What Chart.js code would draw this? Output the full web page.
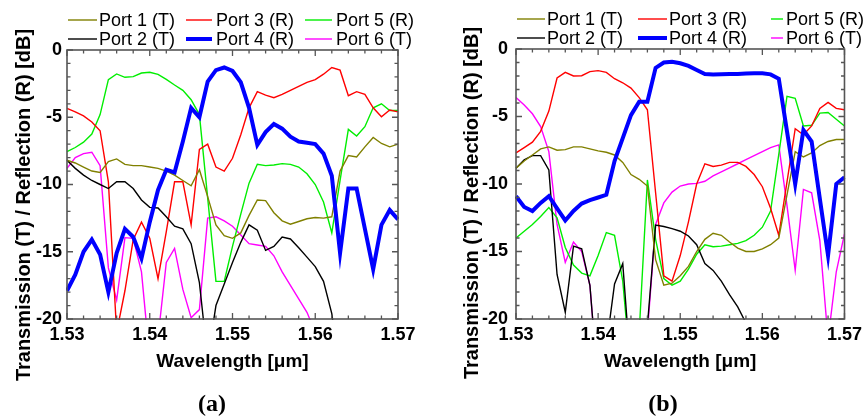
<!DOCTYPE html>
<html lang="en">
<head>
    <meta charset="UTF-8">
    <title>Port Response</title>
    <style>
        * { margin: 0; padding: 0; box-sizing: border-box; }
        body { background: #fff; }
        #wrap { position: relative; width: 867px; height: 417px; background: #fff; overflow: hidden; }
        canvas { position: absolute; top: 0; }
        .tag {
            position: absolute; top: 390px; width: 60px; line-height: 28px;
            text-align: center; font: bold 24px "Liberation Serif", "Times New Roman", serif;
        }
    </style>
</head>
<body>
    <div id="wrap">
        <canvas id="chartA" width="433" height="417" style="left:0"></canvas>
        <canvas id="chartB" width="434" height="417" style="left:433px"></canvas>
        <div class="tag" style="left:182px">(a)</div>
        <div class="tag" style="left:633px">(b)</div>
    </div>

    <script src="https://cdn.jsdelivr.net/npm/chart.js@4.4.1/dist/chart.umd.min.js"></script>
    <script>
        // Wavelength samples [um]
        const wl = [1.530, 1.531, 1.532, 1.533, 1.534, 1.535, 1.536, 1.537, 1.538, 1.539,
                    1.540, 1.541, 1.542, 1.543, 1.544, 1.545, 1.546, 1.547, 1.548, 1.549,
                    1.550, 1.551, 1.552, 1.553, 1.554, 1.555, 1.556, 1.557, 1.558, 1.559,
                    1.560, 1.561, 1.562, 1.563, 1.564, 1.565, 1.566, 1.567, 1.568, 1.569, 1.570];

        const portNames = ['Port 1 (T)', 'Port 2 (T)', 'Port 3 (R)', 'Port 4 (R)', 'Port 5 (R)', 'Port 6 (T)'];
        const portColors = ['#808000', '#000000', '#ff0000', '#0000ff', '#00ee00', '#ff00ff'];
        const xTicks = ['1.53', '1.54', '1.55', '1.56', '1.57'];
        const yTicks = ['0', '-5', '-10', '-15', '-20'];

        // (a) values in dB, values below -20 run off the bottom of the frame
        const a_port1 = [-8.2, -8.4, -8.7, -9.0, -9.1, -8.3, -8.1, -8.5, -8.6, -8.6,
                         -8.7, -8.8, -9.0, -9.3, -9.7, -10.1, -8.9, -10.9, -13.0, -13.8,
                         -14.0, -13.6, -12.3, -11.15, -11.2, -12.1, -12.7, -12.95, -12.75, -12.55,
                         -12.45, -12.5, -12.4, -9.0, -7.85, -7.95, -7.2, -6.5, -6.95, -7.2, -7.0];
        const a_port2 = [-8.2, -8.8, -9.3, -9.7, -10.0, -10.3, -9.8, -9.8, -10.3, -11.15,
                         -11.7, -11.75, -12.4, -13.1, -13.3, -14.4, -17.3, -23, -19.0, -17.4,
                         -15.8, -14.3, -13.0, -13.4, -14.9, -14.6, -13.9, -14.05, -14.7, -15.4,
                         -16.1, -17.2, -19.6, -24, -25, -25, -25, -25, -25, -25, -25];
        const a_port3 = [-4.34, -4.6, -4.9, -5.35, -6.0, -9.8, -21, -17.9, -14.1, -12.8,
                         -14.0, -17.0, -13.5, -9.8, -9.8, -13.0, -7.4, -7.0, -8.7, -9.0,
                         -8.05, -6.3, -4.3, -3.1, -3.35, -3.55, -3.3, -3.0, -2.7, -2.4,
                         -2.2, -1.8, -1.3, -1.5, -3.4, -3.1, -3.3, -4.3, -4.96, -4.46, -4.6];
        const a_port4 = [-17.9, -16.7, -15.0, -14.1, -15.2, -18.0, -15.1, -13.3, -13.9, -15.5,
                         -12.8, -10.4, -8.9, -9.1, -6.8, -4.3, -5.0, -2.35, -1.5, -1.3,
                         -1.56, -2.4, -4.3, -7.05, -6.1, -5.5, -5.85, -6.45, -6.8, -6.9,
                         -7.0, -7.7, -9.35, -15.1, -10.3, -10.3, -13.3, -16.3, -13.0, -11.9, -12.6];
        const a_port5 = [-7.56, -7.25, -6.85, -6.25, -4.8, -2.2, -1.78, -2.03, -1.98, -1.71,
                         -1.66, -1.81, -2.18, -2.6, -3.0, -3.7, -4.8, -11.0, -17.2, -17.2,
                         -14.6, -12.2, -9.9, -8.5, -8.6, -8.55, -8.45, -8.5, -8.7, -9.2,
                         -10.0, -11.3, -13.6, -9.7, -5.9, -6.4, -5.7, -4.3, -4.0, -4.5, -4.5];
        const a_port6 = [-8.8, -8.0, -7.7, -7.6, -8.6, -16.2, -18.6, -13.95, -14.0, -16.5,
                         -23, -21.4, -15.8, -14.75, -17.8, -19.9, -19.3, -12.5, -12.4, -12.7,
                         -13.1, -13.75, -14.4, -14.5, -14.6, -15.3, -16.5, -17.5, -18.5, -19.5,
                         -21, -24, -25, -25, -25, -25, -25, -25, -25, -25, -25];

        // (b) values in dB
        const b_port1 = [-8.84, -8.3, -7.85, -7.4, -7.25, -7.5, -7.45, -7.25, -7.25, -7.4,
                         -7.55, -7.65, -7.85, -8.4, -9.3, -9.65, -10.15, -15.6, -17.5, -17.35,
                         -16.8, -16.1, -15.0, -14.1, -13.65, -13.8, -14.3, -14.75, -15.0, -15.0,
                         -14.8, -14.5, -14.0, -10.8, -7.6, -8.0, -7.7, -7.15, -6.85, -6.7, -6.7];
        const b_port2 = [-8.84, -8.2, -7.9, -7.9, -8.96, -16.7, -19.5, -14.6, -14.8, -17.5,
                         -25, -22, -17.4, -15.9, -24, -25, -20.5, -13.05, -13.15, -13.3,
                         -13.5, -13.85, -14.5, -15.9, -16.4, -17.2, -18.2, -19.1, -20.3, -25,
                         -25, -25, -25, -25, -25, -25, -25, -25, -25, -25, -25];
        const b_port3 = [-7.7, -7.3, -6.9, -6.1, -4.6, -2.15, -1.73, -2.0, -1.98, -1.68,
                         -1.6, -1.73, -2.2, -2.5, -2.9, -3.6, -4.5, -10.65, -16.8, -17.2,
                         -15.3, -12.8, -10.0, -8.5, -8.7, -8.6, -8.4, -8.4, -8.7, -9.3,
                         -10.2, -11.8, -13.8, -9.85, -5.9, -6.35, -5.7, -4.4, -3.95, -4.4, -4.5];
        const b_port4 = [-10.9, -11.7, -12.0, -11.4, -10.9, -11.8, -12.7, -12.0, -11.45, -11.2,
                         -11.0, -10.8, -8.3, -6.6, -4.9, -3.9, -3.9, -1.4, -1.0, -0.94,
                         -1.06, -1.25, -1.55, -1.85, -1.88, -1.87, -1.85, -1.85, -1.82, -1.8,
                         -1.8, -1.88, -2.2, -6.1, -10.0, -6.0, -6.85, -11.1, -15.3, -10.0, -9.5];
        const b_port5 = [-14.0, -13.5, -13.0, -12.4, -11.75, -12.5, -14.7, -16.0, -16.6, -16.8,
                         -15.3, -13.6, -13.8, -17.2, -24, -21, -9.7, -14.1, -17.0, -17.5,
                         -17.2, -16.3, -15.2, -14.5, -14.65, -14.6, -14.5, -14.4, -14.2, -13.8,
                         -13.2, -12.0, -7.8, -3.5, -3.65, -5.7, -5.65, -4.75, -4.7, -5.2, -5.7];
        const b_port6 = [-3.6, -4.15, -4.8, -5.75, -7.6, -13.0, -15.8, -14.3, -15.0, -17.5,
                         -25, -25, -25, -25, -25, -25, -21, -13.0, -11.4, -10.6,
                         -10.15, -10.0, -9.95, -9.8, -9.4, -9.1, -8.8, -8.5, -8.2, -7.9,
                         -7.6, -7.3, -7.1, -11.6, -16.4, -10.4, -10.65, -14.2, -21.5, -16.5, -13.7];

        const FONT = '"Liberation Sans", Arial, sans-serif';
        Chart.defaults.font.family = FONT;
        Chart.defaults.color = '#000';

        // frame with inward ticks on all four sides
        const framePlugin = {
            id: 'frame',
            afterDatasetsDraw(chart) {
                const { ctx, chartArea: a, scales: { x, y } } = chart;
                ctx.save();
                ctx.strokeStyle = '#555';
                ctx.lineWidth = 1.3;
                ctx.beginPath();
                for (let k = 0; k <= 20; k++) {
                    const px = x.getPixelForValue(x.min + k * (x.max - x.min) / 20);
                    const len = k % 5 === 0 ? 6 : 3.5;
                    ctx.moveTo(px, a.bottom); ctx.lineTo(px, a.bottom - len);
                    ctx.moveTo(px, a.top); ctx.lineTo(px, a.top + len);
                }
                for (let k = 0; k <= 20; k++) {
                    const py = y.getPixelForValue(y.min + k * (y.max - y.min) / 20);
                    const len = k % 5 === 0 ? 6 : 3.5;
                    ctx.moveTo(a.left, py); ctx.lineTo(a.left + len, py);
                    ctx.moveTo(a.right, py); ctx.lineTo(a.right - len, py);
                }
                ctx.stroke();
                ctx.lineWidth = 1.6;
                ctx.strokeRect(a.left, a.top, a.right - a.left, a.bottom - a.top);
                ctx.restore();
            }
        };

        // two-row legend above the frame plus the rotated y title
        const notesPlugin = {
            id: 'notes',
            afterDraw(chart, args, opts) {
                const ctx = chart.ctx;
                ctx.save();
                ctx.font = '18px ' + FONT;
                ctx.textBaseline = 'middle';
                ctx.fillStyle = '#000';
                chart.data.datasets.forEach((ds, i) => {
                    const col = opts.cols[Math.floor(i / 2)];
                    const yy = opts.rows[i % 2];
                    ctx.strokeStyle = ds.borderColor;
                    ctx.lineWidth = ds.borderWidth;
                    ctx.beginPath();
                    ctx.moveTo(col[0], yy); ctx.lineTo(col[1], yy);
                    ctx.stroke();
                    ctx.fillText(ds.label, col[2], yy + 1);
                });
                ctx.translate(opts.titleX, opts.titleY);
                ctx.rotate(-Math.PI / 2);
                ctx.textAlign = 'center';
                ctx.font = 'bold 20px ' + FONT;
                ctx.fillText('Transmission (T) / Reflection (R) [dB]', 0, 0);
                ctx.restore();
            }
        };

        function makeChart(id, series, lay) {
            const datasets = series.map((vals, i) => ({
                label: portNames[i],
                data: wl.map((w, k) => ({ x: w, y: vals[k] })),
                borderColor: portColors[i],
                borderWidth: i === 3 ? 4 : 1.4,
                pointRadius: 0,
                tension: 0,
                clip: 1,
                order: i === 3 ? 0 : 1
            }));
            return new Chart(document.getElementById(id), {
                type: 'line',
                data: { datasets },
                plugins: [framePlugin, notesPlugin],
                options: {
                    responsive: false,
                    devicePixelRatio: 1,
                    animation: false,
                    layout: { padding: { left: 0, right: lay.padRight, top: lay.top, bottom: 44 } },
                    plugins: {
                        legend: { display: false },
                        tooltip: { enabled: false },
                        notes: { cols: lay.cols, rows: lay.rows, titleX: lay.titleX, titleY: lay.titleY }
                    },
                    scales: {
                        x: {
                            type: 'linear',
                            min: 1.53, max: 1.57,
                            afterFit: s => { s.height = 54; },
                            grid: { display: false, drawTicks: false },
                            border: { display: false },
                            ticks: {
                                stepSize: 0.01, autoSkip: false, maxRotation: 0, padding: 5,
                                font: { size: 18, weight: 'bold' },
                                callback: (v, k) => xTicks[k]
                            },
                            title: {
                                display: true, text: 'Wavelength [μm]',
                                font: { size: 19, weight: 'bold' },
                                padding: { top: 0, bottom: 0 }
                            }
                        },
                        y: {
                            min: -20, max: 0,
                            afterFit: s => { s.width = lay.left; },
                            grid: { display: false, drawTicks: false },
                            border: { display: false },
                            ticks: {
                                stepSize: 5, padding: lay.tickPad,
                                font: { size: 18, weight: 'bold' },
                                callback: (v, k) => yTicks[4 - k]
                            }
                        }
                    }
                }
            });
        }

        makeChart('chartA', [a_port1, a_port2, a_port3, a_port4, a_port5, a_port6], {
            left: 67, padRight: 35, top: 50, tickPad: 5,
            cols: [[68, 97, 99], [186, 212, 216], [305, 332, 336]],
            rows: [20, 39], titleX: 24, titleY: 205
        });
        makeChart('chartB', [b_port1, b_port2, b_port3, b_port4, b_port5, b_port6], {
            left: 83, padRight: 19, top: 49, tickPad: 8,
            cols: [[84, 112, 114], [205, 234, 236], [338, 350, 353]],
            rows: [19, 38], titleX: 39, titleY: 203
        });
    </script>
</body>
</html>
